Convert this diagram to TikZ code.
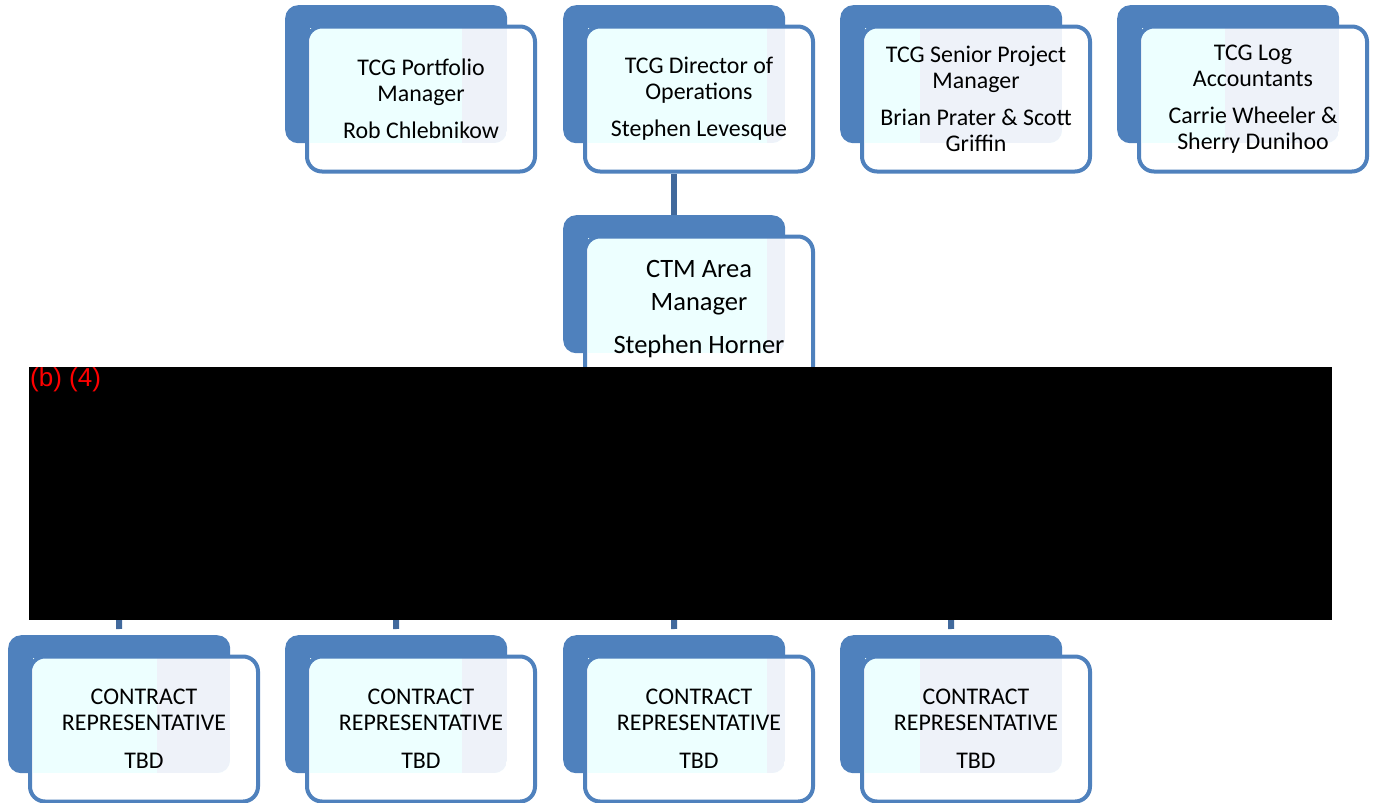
\documentclass[tikz,border=0pt]{standalone}
\usepackage{fontspec}
\setmainfont{Carlito}
\newfontfamily\redactfont{Liberation Sans}
\usepackage{xcolor}
\usepackage{tikz}
\definecolor{unitblue}{HTML}{4F81BD}
\definecolor{linkblue}{HTML}{41699C}
\definecolor{panecyan}{HTML}{EDFFFF}
\definecolor{panelav}{HTML}{EEF2F9}
\tikzset{
	backbox/.style={fill=unitblue,rounded corners=13pt,minimum width=222pt,minimum height=138pt,inner sep=0pt,anchor=north west},
	frontbox/.style={draw=unitblue,line width=4pt,rounded corners=15pt,minimum width=228pt,minimum height=145pt,inner sep=0pt,align=center},
	small/.style={font=\fontsize{23.9}{26}\selectfont},
	big/.style={font=\fontsize{26.5}{33}\selectfont},
	link/.style={draw=linkblue,line width=6pt},
	redact/.style={text=red,font=\redactfont\fontsize{26}{30}\selectfont,anchor=north west,inner sep=1pt}
}
% #1 name, #2 x, #3 y, #4 split, #5 style, #6 text
\newcommand{\orgunit}[6]{%
	\node[backbox] (#1b) at (#2,#3) {};
	\fill[white,rounded corners=15pt] (#2+23,#3+21) rectangle (#2+251,#3+166);
	\begin{scope}
		\clip[rounded corners=13pt] (#2,#3) rectangle (#2+222,#3+138);
		\fill[panecyan] (#2+25,#3+23) rectangle (#2+222,#3+138);
		\fill[panelav] (#4,#3+23) rectangle (#2+222,#3+138);
	\end{scope}
	\node[frontbox,#5] (#1) at (#2+136,#3+94) {#6};
}

\begin{document}
\begin{tikzpicture}[x=1pt,y=-1pt]
	\useasboundingbox (0,0) rectangle (1376,803);
	%
	\orgunit{port}{285}{5}{462}{small}{TCG Portfolio\\Manager\\[11pt]Rob Chlebnikow}
	\orgunit{dir}{563}{5}{767}{small}{TCG Director of\\Operations\\[11pt]Stephen Levesque}
	\orgunit{spm}{840}{5}{920}{small}{TCG Senior Project\\Manager\\[11pt]Brian Prater \& Scott\\Griffin}
	\orgunit{log}{1117}{5}{1225}{small}{TCG Log\\Accountants\\[11pt]Carrie Wheeler \&\\Sherry Dunihoo}
	%
	\orgunit{ctm}{563}{215}{767}{big}{CTM Area\\Manager\\[10pt]Stephen Horner}
	%
	\foreach \i/\x/\s in {1/8/157,2/285/462,3/563/767,4/840/920}{
		\orgunit{rep\i}{\x}{635}{\s}{small}{CONTRACT\\REPRESENTATIVE\\[12pt]TBD}
		\coordinate (hub\i) at (\x+111,620);
		\path[link] (hub\i) edge ([yshift=6pt]rep\i b.north);
	}
	%
	\path[link] (ctmb.north) edge (ctmb.north |- dir.south);
	%
	\fill[black] (29,367) rectangle (1332,620);
	\node[redact] (bfour) at (29,366) {(b) (4)};
\end{tikzpicture}
\end{document}
